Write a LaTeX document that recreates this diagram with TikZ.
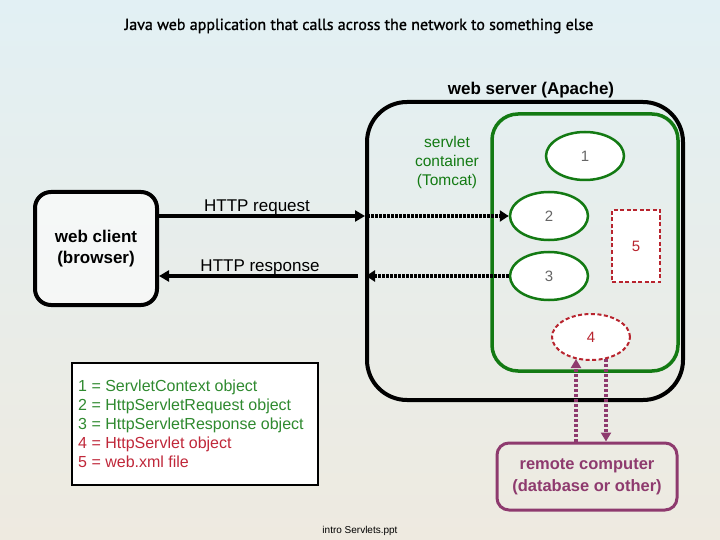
\documentclass[tikz,border=0pt]{standalone}
\usepackage{fontspec}
\setmainfont{Liberation Sans}
\newfontfamily\titlefont[FakeBold=1.2]{PT Sans}
\usetikzlibrary{arrows.meta,calc,shapes.geometric}
\definecolor{sgreen}{HTML}{137A13}
\definecolor{sred}{HTML}{B8242E}
\definecolor{spurple}{HTML}{8E3A6E}
\definecolor{lgreen}{HTML}{2F8A2F}
\definecolor{lred}{HTML}{C0283A}
\definecolor{bgtop}{HTML}{E2F0F4}
\definecolor{bgbot}{HTML}{EEEAE0}
\begin{document}
\begin{tikzpicture}[x=1pt,y=-1pt,
  blackbox/.style={draw=black, line width=4pt},
  obj/.style={ellipse, draw=sgreen, line width=2.5pt, fill=white, minimum width=78pt, minimum height=48pt, inner sep=0pt, text=black!60, font=\fontsize{15}{18}\selectfont},
  redobj/.style={draw=sred, line width=2pt, dash pattern=on 4pt off 2.5pt, fill=white, inner sep=0pt, text=sred, font=\fontsize{15}{18}\selectfont},
  solidarrow/.style={line width=3.5pt, -{Triangle[length=10pt,width=11pt]}},
  dotarrow/.style={line width=4pt, dash pattern=on 2.5pt off 1.5pt, -{Triangle[length=9pt,width=11pt]}},
  purparrow/.style={draw=spurple, line width=3.5pt, dash pattern=on 3pt off 2pt, -{Triangle[length=9pt,width=10pt]}},
  lbl/.style={inner sep=0pt, font=\fontsize{17}{20}\selectfont}
]
\useasboundingbox (0,0) rectangle (720,540);
\shade[top color=bgtop, bottom color=bgbot] (0,0) rectangle (720,540);

% title
\node[inner sep=0pt, font=\titlefont\fontsize{16}{19}\selectfont] (title) at (359,26) {Java web application that calls across the network to something else};
\node[inner sep=0pt, font=\bfseries\fontsize{17}{20}\selectfont] (wslabel) at (531,90) {web server (Apache)};

% web server and servlet container
\node[blackbox, rounded corners=40pt, minimum width=316pt, minimum height=298pt] (server) at (525,251) {};
\node[draw=sgreen, line width=3.5pt, rounded corners=26pt, minimum width=186pt, minimum height=257pt] (container) at (585,242.5) {};
\node[inner sep=0pt, align=center, text=sgreen, font=\fontsize{15.5}{19}\selectfont] (clabel) at (447,162) {servlet\\container\\(Tomcat)};

\node[obj] (e1) at (585,156) {1};
\node[obj] (e2) at (549,216) {2};
\node[obj] (e3) at (549,276) {3};
\node[redobj, ellipse, minimum width=78pt, minimum height=46pt] (e4) at (591,337) {4};
\node[redobj, rectangle, minimum width=48pt, minimum height=72pt] (r5) at (636,246) {5};

% web client
\node[blackbox, rounded corners=16pt, fill=white, fill opacity=0.6, text opacity=1, minimum width=122pt, minimum height=113pt, align=center, font=\bfseries\fontsize{17}{21}\selectfont] (client) at (96,248.5) {web client\\(browser)};

% HTTP arrows
\draw[solidarrow] (client.east |- e2) -- (server.west |- e2);
\draw[dotarrow] ([xshift=2pt]server.west |- e2) -- (e2.west);
\draw[dotarrow] (e3.west) -- ([xshift=1pt]server.west |- e3);
\draw[solidarrow] ([xshift=-7pt]server.west |- e3) -- (client.east |- e3);
\node[lbl] (req) at (257,207) {HTTP request};
\node[lbl] (resp) at (260,267) {HTTP response};

% legend
\node[draw=black, line width=2pt, fill=white, minimum width=246pt, minimum height=122pt] (legend) at (195,424) {};
\node[anchor=west, inner sep=0pt, align=left, font=\fontsize{16}{19}\selectfont] (legtext) at ([xshift=7pt]legend.west) {\textcolor{lgreen}{1 = ServletContext object}\\\textcolor{lgreen}{2 = HttpServletRequest object}\\\textcolor{lgreen}{3 = HttpServletResponse object}\\\textcolor{lred}{4 = HttpServlet object}\\\textcolor{lred}{5 = web.xml file}};

% remote computer
\node[draw=spurple, line width=3pt, rounded corners=12pt, minimum width=180pt, minimum height=67pt, align=center, text=spurple, font=\bfseries\fontsize{16.5}{22}\selectfont] (remote) at (587,476.5) {remote computer\\(database or other)};
\draw[purparrow] ([xshift=-15pt]e4.center |- remote.north) -- ([xshift=-15pt,yshift=2pt]e4.south);
\draw[purparrow] ([xshift=15pt,yshift=2pt]e4.south) -- ([xshift=15pt]e4.center |- remote.north);

% footer
\node[inner sep=0pt, font=\fontsize{10}{12}\selectfont] (footer) at (360,531) {intro Servlets.ppt};
\end{tikzpicture}
\end{document}
